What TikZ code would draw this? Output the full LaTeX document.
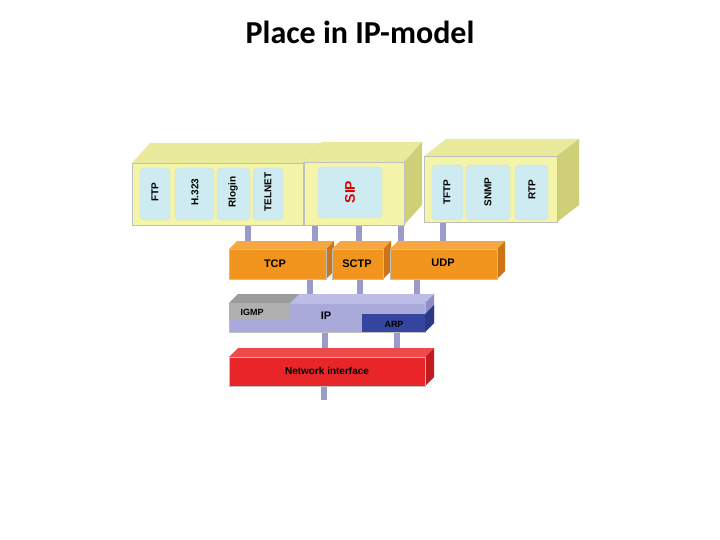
\documentclass[tikz,border=0pt]{standalone}
\usepackage{fontspec}
\setmainfont{Liberation Sans}
\newfontfamily\titlefont{Carlito}
\definecolor{yf}{HTML}{F5F5AA}\definecolor{ys}{HTML}{CFCF78}\definecolor{yt}{HTML}{EAEA9C}
\definecolor{lb}{HTML}{CDEBF0}
\definecolor{of}{HTML}{F2951F}\definecolor{os}{HTML}{CC7418}\definecolor{ot}{HTML}{F5A840}
\definecolor{ipf}{HTML}{A9A9DA}\definecolor{ips}{HTML}{8E8EC4}\definecolor{ipt}{HTML}{BCBCE6}
\definecolor{gf}{HTML}{B0B0B0}\definecolor{gt}{HTML}{9C9C9C}
\definecolor{af}{HTML}{3545A0}\definecolor{as}{HTML}{2A3888}
\definecolor{rf}{HTML}{E8262A}\definecolor{rs}{HTML}{C01C20}\definecolor{rt}{HTML}{EE4A4C}
\definecolor{pil}{HTML}{9A9ACB}
\newcommand\mycube[9]{% x1 y1 x2 y2 dx dy front side top
  \fill[#9] (#1,#2) -- ++(#5,#6) -- (#3+#5,#2+#6) -- (#3,#2) -- cycle;
  \fill[#8] (#3,#2) -- (#3+#5,#2+#6) -- (#3+#5,#4+#6) -- (#3,#4) -- cycle;
  \fill[#7] (#1,#2) rectangle (#3,#4);
  \draw[black!25,line width=0.4pt] (#1,#2) rectangle (#3,#4);}
\newcommand\pillar[3]{\fill[pil] (#1-3,#2) rectangle (#1+3,#3);}
\tikzset{lab/.style={font=\bfseries\fontsize{10}{11}\selectfont, inner sep=0pt},
 inner/.style={fill=lb, rounded corners=4pt, draw=black!15},
 vlab/.style={lab, rotate=90}}
\begin{document}
\begin{tikzpicture}[x=1pt,y=-1pt]
\useasboundingbox (0,0) rectangle (720,540);
\fill[white] (0,0) rectangle (720,540);
\node[font=\titlefont\bfseries\fontsize{32}{36}\selectfont] (title) at (360,32) {Place in IP-model};
% pillars
\pillar{248}{220}{252}\pillar{315}{220}{250}\pillar{359}{220}{246}\pillar{401}{218}{250}\pillar{443}{218}{250}
\pillar{310}{276}{305}\pillar{360}{276}{305}\pillar{417}{276}{305}
\pillar{325}{330}{360}\pillar{397}{330}{360}\pillar{324}{384}{400}
% app boxes
\mycube{132}{163}{303}{225}{18}{-20}{yf}{ys}{yt}
\mycube{304}{162}{404}{225}{18}{-20}{yf}{ys}{yt}
\mycube{424}{156}{557}{222}{22}{-17}{yf}{ys}{yt}
\draw[inner] (140,168) rectangle (170,220);
\draw[inner] (175,168) rectangle (214,220);
\draw[inner] (217,168) rectangle (250,220);
\draw[inner] (253,168) rectangle (283,220);
\draw[inner] (318,167) rectangle (382,218);
\draw[inner] (432,165) rectangle (463,220);
\draw[inner] (466,165) rectangle (510,220);
\draw[inner] (515,165) rectangle (548,220);
\node[vlab] (ftp) at (155,192) {FTP};
\node[vlab] (h323) at (195,192) {H.323};
\node[vlab] (rlogin) at (233,192) {Rlogin};
\node[vlab] (telnet) at (268,192) {TELNET};
\node[vlab,text=red!85!black,font=\bfseries\fontsize{14}{15}\selectfont] (sip) at (350,192) {SIP};
\node[vlab] (tftp) at (447,192) {TFTP};
\node[vlab] (snmp) at (488,192) {SNMP};
\node[vlab] (rtp) at (532,190) {RTP};
% transport
\mycube{229}{249}{326}{279}{8}{-8}{of}{os}{ot}
\mycube{332}{249}{383}{279}{8}{-8}{of}{os}{ot}
\mycube{390}{249}{497}{279}{8}{-8}{of}{os}{ot}
\node[lab,font=\bfseries\fontsize{11}{12}\selectfont] (tcp) at (275,264) {TCP};
\node[lab,font=\bfseries\fontsize{11}{12}\selectfont] (sctp) at (357,264) {SCTP};
\node[lab,font=\bfseries\fontsize{11}{12}\selectfont] (udp) at (443,263) {UDP};
% IP
\mycube{229}{303}{425}{332}{9}{-9}{ipf}{ips}{ipt}
\fill[gt] (229,303) -- ++(9,-9) -- (299,294) -- (290,303) -- cycle;
\fill[gf] (229,303) rectangle (290,320);
\fill[af] (362,314) rectangle (425,332);
\fill[as] (425,314) -- (434,305) -- (434,323) -- (425,332) -- cycle;
\node[lab,font=\bfseries\fontsize{9}{10}\selectfont] (igmp) at (252,312) {IGMP};
\node[lab,font=\bfseries\fontsize{11}{12}\selectfont] (ip) at (326,316) {IP};
\node[lab,font=\bfseries\fontsize{9}{10}\selectfont] (arp) at (394,324) {ARP};
% network interface
\mycube{229}{357}{425}{386}{9}{-9}{rf}{rs}{rt}
\node[lab,font=\bfseries\fontsize{10}{11}\selectfont] (ni) at (327,371) {Network interface};
\end{tikzpicture}
\end{document}
